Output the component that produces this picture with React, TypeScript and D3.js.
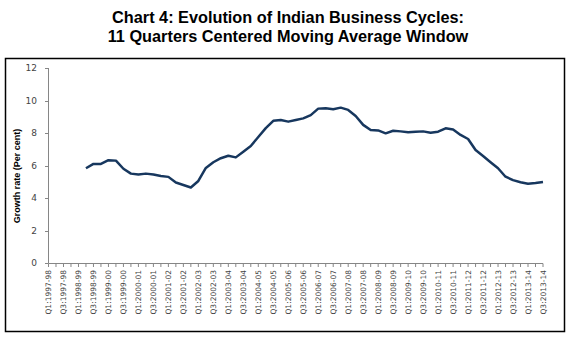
import React from "react";
import * as d3 from "d3";

const years = ["1997-98","1998-99","1999-00","2000-01","2001-02","2002-03","2003-04","2004-05","2005-06","2006-07","2007-08","2008-09","2009-10","2010-11","2011-12","2012-13","2013-14"];
const categories: string[] = [];
years.forEach(y => { for (let q = 1; q <= 4; q++) categories.push(`Q${q}:${y}`); });
const quarters = categories.slice(0, 67); // Q1:1997-98 .. Q3:2013-14

const firstIndex = 5;
const growth = [
  5.83, 6.1, 6.1, 6.33, 6.3, 5.8, 5.5, 5.45, 5.5, 5.45,
  5.35, 5.3, 4.95, 4.8, 4.65, 5.05, 5.85, 6.2, 6.45, 6.6,
  6.5, 6.85, 7.2, 7.75, 8.3, 8.75, 8.8, 8.7, 8.8, 8.9,
  9.1, 9.5, 9.52, 9.46, 9.56, 9.42, 9.05, 8.5, 8.18, 8.16,
  7.98, 8.14, 8.1, 8.04, 8.08, 8.1, 8.02, 8.08, 8.29, 8.22,
  7.88, 7.63, 6.95, 6.58, 6.2, 5.83, 5.31, 5.1, 4.97, 4.88,
  4.92, 4.98
];
const yTicks = [0, 2, 4, 6, 8, 10, 12];
const titleLines = ["Chart 4: Evolution of Indian Business Cycles:", "11 Quarters Centered Moving Average Window"];
const yTitle = "Growth rate (Per cent)";

export default function App() {
  const x = d3.scalePoint<string>().domain(quarters).range([48.5, 543]);
  const y = d3.scaleLinear().domain([0, 12]).range([263, 68]);
  const pts = growth.map((v, i) => ({ q: quarters[firstIndex + i], v }));
  const line = d3.line<{ q: string; v: number }>().x(d => x(d.q)!).y(d => y(d.v));
  const tickFont = "DejaVu Sans, Verdana, sans-serif";
  return (
    <svg width={575} height={341} style={{ position: "absolute", left: 0, top: 0, background: "#fff" }}>
      <rect x={0} y={0} width={575} height={341} fill="#fff" />
      {titleLines.map((t, i) => (
        <text key={i} x={288} y={22.5 + i * 19} textAnchor="middle" fontFamily="Liberation Sans, Arial, sans-serif" fontWeight="bold" fontSize={16.3} fill="#000">{t}</text>
      ))}
      <rect x={5.5} y={58.5} width={559} height={273} fill="#fff" stroke="#000" strokeWidth={1.5} />
      {/* y axis */}
      <line x1={48.5} x2={48.5} y1={y(12)} y2={y(0)} stroke="#868686" strokeWidth={1} />
      {yTicks.map(t => (
        <g key={t}>
          <line x1={45} x2={48.5} y1={Math.round(y(t)) + 0.5} y2={Math.round(y(t)) + 0.5} stroke="#868686" />
          <text x={37} y={y(t) + 3} textAnchor="end" fontFamily={tickFont} fontSize={9} fill="#444">{t}</text>
        </g>
      ))}
      <text transform={`translate(20,176) rotate(-90)`} textAnchor="middle" fontFamily="Liberation Sans, Arial, sans-serif" fontWeight="bold" fontSize={9} fill="#000">{yTitle}</text>
      {/* x axis */}
      <line x1={48.5} x2={543} y1={263.5} y2={263.5} stroke="#868686" />
      {quarters.map((q) => (
        <line key={q} x1={x(q)!} x2={x(q)!} y1={263.5} y2={267} stroke="#868686" />
      ))}
      {quarters.filter((_, i) => i % 2 === 0).map(q => (
        <text key={q} transform={`translate(${x(q)! + 2.8},270) rotate(-90)`} textAnchor="end" fontFamily={tickFont} fontSize={7.5} fill="#444">{q}</text>
      ))}
      <path d={line(pts) || ""} fill="none" stroke="#17375E" strokeWidth={2.5} strokeLinejoin="round" />
    </svg>
  );
}
